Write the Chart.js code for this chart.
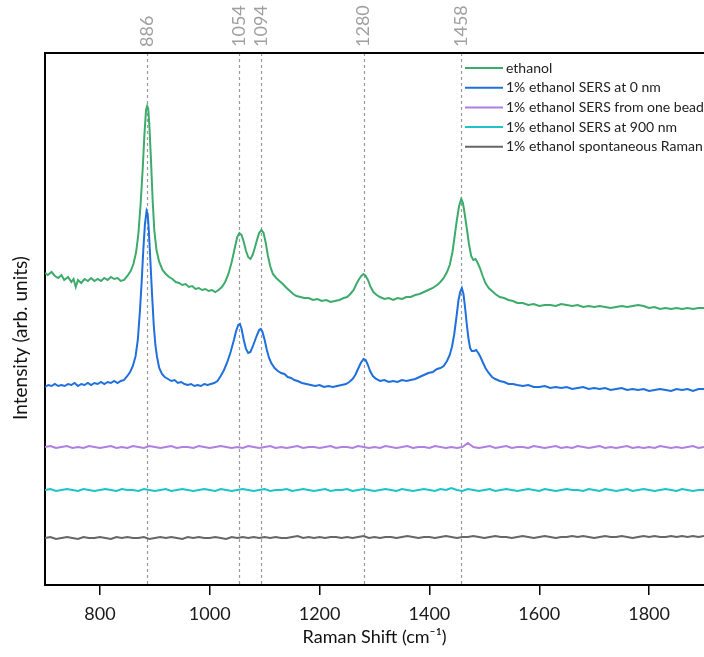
<!DOCTYPE html>
<html lang="en">
<head>
<meta charset="UTF-8">
<title>Ethanol Raman / SERS spectra</title>
<style>
  body { margin: 0; background: #fff; }
  #wrap { width: 704px; height: 657px; }
</style>
</head>
<body>
<div id="wrap"><canvas id="spectra" width="704" height="657"></canvas></div>

<script src="https://cdn.jsdelivr.net/npm/chart.js"></script>
<script>
// Raman shift axis (cm-1)
const xMin = 700, xMax = 1900;
const xTicks = [800, 1000, 1200, 1400, 1600, 1800];
const peakLines = [886, 1054, 1094, 1280, 1458];

const seriesNames = [
  'ethanol',
  '1% ethanol SERS at 0 nm',
  '1% ethanol SERS from one bead',
  '1% ethanol SERS at 900 nm',
  '1% ethanol spontaneous Raman'
];
const seriesColors = ['#3dab6b', '#1f6fdc', '#b07fe0', '#1cc3c7', '#666666'];

// pure ethanol (offset, arb. units)
const ethanolShift = [700,705,712,718,724,730,735,742,748,752,756,760,766,772,778,784,790,796,802,808,814,820,826,832,838,844,850,856,861,866,870,874,878,881,884,886,888,890,893,896,899,903,908,914,920,926,932,938,944,950,956,962,968,974,980,986,992,998,1004,1010,1016,1022,1028,1034,1040,1046,1050,1054,1058,1062,1066,1070,1074,1078,1082,1086,1090,1094,1098,1102,1106,1110,1115,1121,1127,1133,1140,1146,1152,1158,1165,1172,1180,1188,1196,1204,1212,1220,1228,1236,1244,1250,1256,1262,1267,1272,1276,1280,1284,1288,1293,1298,1304,1310,1318,1326,1334,1342,1350,1358,1366,1374,1382,1390,1398,1406,1414,1420,1426,1432,1437,1442,1446,1450,1454,1458,1461,1464,1468,1472,1476,1480,1484,1488,1492,1497,1502,1508,1514,1520,1528,1536,1544,1552,1560,1570,1580,1590,1600,1610,1620,1630,1640,1650,1660,1670,1680,1690,1700,1710,1720,1730,1740,1750,1760,1770,1780,1790,1800,1810,1820,1830,1840,1850,1860,1870,1880,1890,1900];
const ethanol = [312,310,313,309,307,310,305,308,303,306,298,305,302,306,304,307,304,306,304,307,305,308,306,307,304,305,309,314,321,333,351,380,417,450,475,479,476,460,425,385,355,335,323,315,311,308,306,303,302,300,301,298,299,296,297,295,296,294,295,293,295,298,303,311,323,338,348,352,350,343,334,328,326,330,337,345,352,355,352,342,329,319,311,307,304,301,297,294,291,289,288,287,287,285,286,284,285,283,284,285,287,288,291,295,301,306,309,311,309,305,298,293,290,288,286,287,285,287,286,288,288,290,291,293,295,297,300,303,307,313,320,333,349,365,379,386,382,372,357,341,329,325,326,322,317,309,302,297,294,291,288,287,285,284,282,282,280,281,279,280,280,279,281,280,279,280,278,279,278,279,278,277,278,279,278,279,280,279,277,278,276,277,276,277,276,277,276,277,277];

// 1% ethanol SERS at 0 nm
const sers0Shift = [700,706,712,718,724,730,736,742,748,754,760,766,772,778,784,790,796,802,808,814,820,826,832,838,844,850,855,860,865,869,873,876,879,882,885,887,889,892,895,898,901,904,908,913,918,924,930,936,942,948,954,960,966,972,978,984,990,996,1002,1008,1014,1020,1026,1032,1038,1044,1048,1052,1055,1058,1062,1066,1070,1074,1078,1082,1086,1090,1093,1096,1100,1104,1108,1112,1118,1124,1130,1136,1142,1148,1154,1160,1168,1176,1184,1192,1200,1208,1216,1224,1232,1240,1248,1254,1260,1265,1270,1275,1280,1284,1288,1292,1297,1303,1310,1318,1326,1334,1342,1350,1358,1366,1374,1382,1390,1398,1406,1414,1420,1426,1432,1437,1441,1445,1449,1453,1456,1459,1462,1465,1468,1471,1474,1477,1481,1485,1489,1493,1497,1502,1508,1514,1520,1528,1536,1544,1552,1560,1570,1580,1590,1600,1610,1620,1630,1640,1650,1660,1670,1680,1690,1700,1710,1720,1730,1740,1750,1760,1770,1780,1790,1800,1810,1820,1830,1840,1850,1860,1870,1880,1890,1900];
const sers0 = [198,200,199,201,199,200,199,201,200,202,199,201,200,202,200,202,201,203,201,203,202,204,202,204,205,209,213,219,229,245,275,303,335,361,374,371,355,323,290,260,240,228,217,211,208,206,204,205,202,203,201,200,201,199,200,199,201,200,201,202,204,209,215,223,233,245,254,260,261,256,245,236,232,233,238,244,250,255,256,253,245,235,227,222,217,214,212,211,208,207,205,204,202,201,200,199,200,198,199,198,199,200,201,203,206,210,216,222,226,225,220,214,209,206,204,205,203,204,203,205,204,205,206,208,210,212,213,216,217,219,224,230,238,250,267,285,293,297,291,277,261,247,237,234,234,235,232,228,223,217,212,208,206,204,203,201,201,200,199,200,198,198,199,197,198,197,198,196,197,198,196,197,196,197,195,196,197,195,196,195,196,194,195,196,195,194,196,195,196,194,196,196];

// the three flat traces share one 10 cm-1 grid
const flatShift = [];
for (let s = xMin; s <= xMax; s += 10) flatShift.push(s);

const sersBead = [138,139,137,138,139,137,138,137,139,138,
  137,138,139,137,138,137,139,138,137,139,
  138,137,138,139,137,138,138,137,139,138,
  137,138,139,138,137,138,137,139,138,137,
  138,139,137,138,137,138,139,137,138,138,
  137,138,139,137,138,138,137,139,138,137,
  138,137,139,138,137,138,139,137,138,138,
  137,139,138,137,138,137,138,142,138,137,
  138,139,137,138,139,137,138,138,137,139,
  138,137,138,139,137,138,137,139,138,137,
  138,139,137,138,137,138,139,137,138,137,
  138,137,139,138,137,138,137,138,139,137,
  138];

const sers900 = [95,96,94,95,96,95,94,96,95,94,
  95,96,95,94,96,95,95,94,96,95,
  94,95,96,94,95,96,95,94,95,96,
  95,94,96,95,94,95,96,95,94,95,
  96,94,95,95,96,94,95,96,95,94,
  95,96,94,95,95,96,94,95,96,95,
  94,95,96,95,94,96,95,94,95,96,
  95,94,96,95,97,95,94,96,95,94,
  95,96,94,95,96,95,94,95,96,95,
  94,96,95,94,95,96,95,95,94,96,
  95,94,96,95,94,95,96,94,95,96,
  95,94,95,96,95,94,96,95,94,95,
  95];

const spontaneous = [47,48,46,47,48,47,46,48,47,47,
  48,47,46,48,47,48,47,47,48,46,
  47,48,47,48,47,46,48,47,48,47,
  47,48,47,46,48,47,48,47,48,47,
  48,47,48,47,47,48,49,47,48,47,
  48,47,48,48,47,48,47,48,49,47,
  48,47,48,48,47,48,49,48,47,48,
  48,47,48,49,48,47,48,48,49,48,
  47,48,49,48,48,47,48,49,48,47,
  48,49,48,47,48,48,49,48,49,48,
  47,48,49,48,48,49,48,47,48,49,
  48,49,48,48,49,48,49,48,49,48,
  49];

function toPoints(xs, ys) {
  return ys.map((y, i) => ({ x: xs[i], y: y }));
}

const seriesData = [
  toPoints(ethanolShift, ethanol),
  toPoints(sers0Shift, sers0),
  toPoints(flatShift, sersBead),
  toPoints(flatShift, sers900),
  toPoints(flatShift, spontaneous)
];

const datasets = seriesNames.map((name, i) => ({
  label: name,
  data: seriesData[i],
  borderColor: seriesColors[i],
  backgroundColor: seriesColors[i],
  borderWidth: 2,
  pointRadius: 0,
  tension: 0,
  fill: false
}));

const FONT = 'Lato, "Open Sans", sans-serif';

// dashed peak markers, their labels, top frame, y title and legend
const decorations = {
  id: 'decorations',
  beforeDatasetsDraw(chart) {
    const { ctx, chartArea } = chart;
    const xs = chart.scales.x;
    ctx.save();
    ctx.strokeStyle = '#9a9a9a';
    ctx.lineWidth = 1.2;
    ctx.setLineDash([3, 3]);
    peakLines.forEach(p => {
      const px = Math.round(xs.getPixelForValue(p)) + 0.5;
      ctx.beginPath();
      ctx.moveTo(px, chartArea.top);
      ctx.lineTo(px, chartArea.bottom);
      ctx.stroke();
    });
    ctx.restore();
  },
  afterDraw(chart) {
    const { ctx, chartArea } = chart;
    const xs = chart.scales.x;
    ctx.save();

    // peak labels above the frame
    ctx.fillStyle = '#a0a0a0';
    ctx.font = '18px ' + FONT;
    ctx.textAlign = 'left';
    ctx.textBaseline = 'middle';
    peakLines.forEach(p => {
      const px = xs.getPixelForValue(p);
      ctx.save();
      ctx.translate(px, chartArea.top - 6);
      ctx.rotate(-Math.PI / 2);
      ctx.fillText(String(p), 0, 0);
      ctx.restore();
    });

    // top edge of the frame
    ctx.strokeStyle = '#000';
    ctx.lineWidth = 2;
    ctx.beginPath();
    ctx.moveTo(chartArea.left - 1, chartArea.top);
    ctx.lineTo(chartArea.right, chartArea.top);
    ctx.stroke();

    // y axis title
    ctx.fillStyle = '#111';
    ctx.font = '19px ' + FONT;
    ctx.textAlign = 'center';
    ctx.save();
    ctx.translate(21, 338);
    ctx.rotate(-Math.PI / 2);
    ctx.fillText('Intensity (arb. units)', 0, 0);
    ctx.restore();

    // legend
    ctx.font = '14px ' + FONT;
    ctx.textAlign = 'left';
    ctx.textBaseline = 'middle';
    chart.data.datasets.forEach((ds, i) => {
      const y = 68 + i * 19.7;
      ctx.strokeStyle = ds.borderColor;
      ctx.lineWidth = 2;
      ctx.beginPath();
      ctx.moveTo(465, y);
      ctx.lineTo(503, y);
      ctx.stroke();
      ctx.fillStyle = '#222';
      ctx.fillText(ds.label, 506, y);
    });
    ctx.restore();
  }
};

new Chart(document.getElementById('spectra'), {
  type: 'line',
  data: { datasets: datasets },
  options: {
    responsive: false,
    animation: false,
    layout: { padding: { top: 53, left: 0, right: 0, bottom: 0 } },
    plugins: { legend: { display: false }, tooltip: { enabled: false } },
    scales: {
      x: {
        type: 'linear',
        min: xMin,
        max: xMax,
        afterBuildTicks: s => { s.ticks = xTicks.map(v => ({ value: v })); },
        afterFit: s => { s.height = 72; },
        ticks: {
          color: '#1a1a1a',
          font: { family: FONT, size: 18 },
          padding: 8,
          maxRotation: 0,
          callback: v => String(v)
        },
        grid: { display: true, drawOnChartArea: false, drawTicks: true, tickLength: 10, color: '#000', lineWidth: 1.5 },
        border: { display: true, color: '#000', width: 2 },
        title: {
          display: true,
          text: 'Raman Shift (cm\u207B\u00B9)',
          color: '#111',
          font: { family: FONT, size: 18 },
          padding: { top: 0, bottom: 9 }
        }
      },
      y: {
        min: 0,
        max: 532,
        afterFit: s => { s.width = 45; },
        ticks: { display: false },
        grid: { display: false },
        border: { display: true, color: '#000', width: 2 }
      }
    }
  },
  plugins: [decorations]
});
</script>
</body>
</html>
